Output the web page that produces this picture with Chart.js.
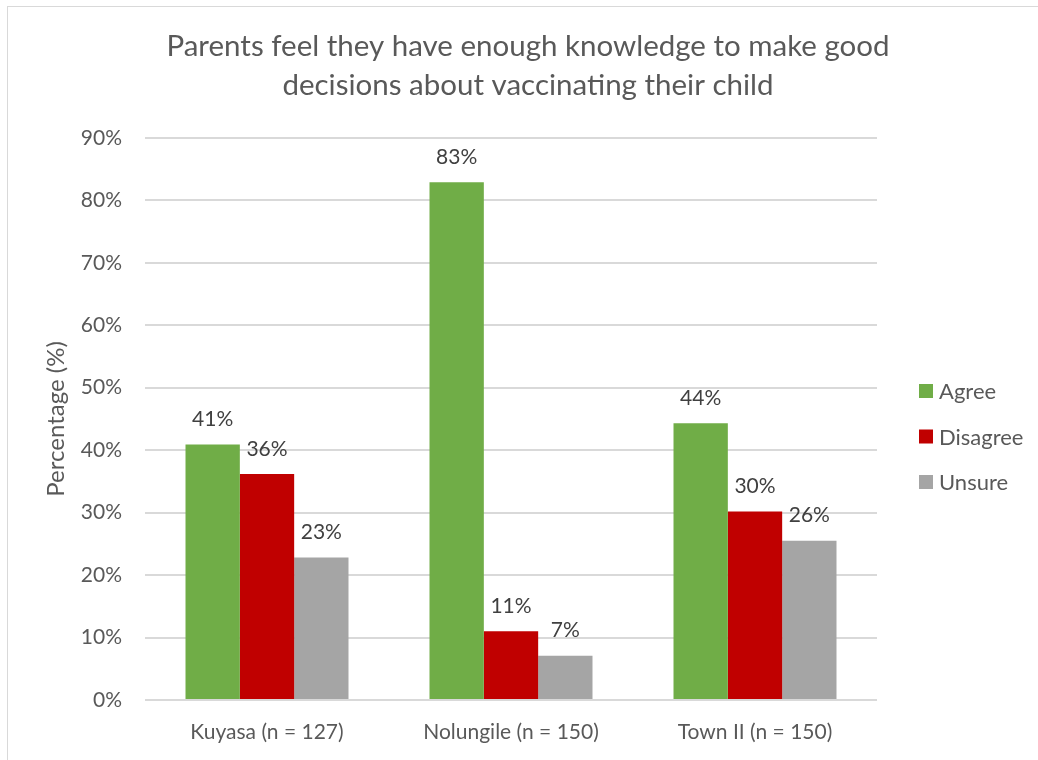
<!DOCTYPE html>
<html>
<head>
<meta charset="utf-8">
<script src="https://cdn.jsdelivr.net/npm/chart.js@4.4.0/dist/chart.umd.min.js"></script>
<style>
  html, body { margin: 0; padding: 0; background: #fff; }
  #wrap { position: relative; width: 1038px; height: 760px; overflow: hidden; }
  #frame { position: absolute; left: 7px; top: 6px; width: 1060px; height: 800px; border: 1px solid #d9d9d9; box-sizing: border-box; }
  #cv { position: absolute; left: 0; top: 0; }
</style>
</head>
<body>
<div id="wrap">
  <div id="frame"></div>
  <canvas id="cv" width="1038" height="760"></canvas>
</div>
<script>
// ---- data ----
var categories = ['Kuyasa (n = 127)', 'Nolungile (n = 150)', 'Town II (n = 150)'];
var agree    = [40.9, 82.9, 44.3];
var disagree = [36.2, 11.0, 30.2];
var unsure   = [22.8, 7.1, 25.5];
var yTicks   = [0, 10, 20, 30, 40, 50, 60, 70, 80, 90];

var FONT = 'Lato, Carlito, Calibri, sans-serif';
var TEXT = '#595959';

// "41%" style labels above each bar
var barLabels = {
    id: 'barLabels',
    afterDatasetsDraw: function (chart) {
        var ctx = chart.ctx;
        ctx.save();
        ctx.font = '21px ' + FONT;
        ctx.fillStyle = '#404040';
        ctx.textAlign = 'center';
        ctx.textBaseline = 'middle';
        chart.data.datasets.forEach(function (ds, i) {
            var meta = chart.getDatasetMeta(i);
            meta.data.forEach(function (bar, j) {
                ctx.fillText(Math.round(ds.data[j]) + '%', bar.x, bar.y - 25);
            });
        });
        ctx.restore();
    }
};

// legend on the right, Excel style
var sideLegend = {
    id: 'sideLegend',
    afterDraw: function (chart) {
        var ctx = chart.ctx;
        var x = chart.chartArea.right + 42;
        var y = 391;
        ctx.save();
        ctx.font = '22px ' + FONT;
        ctx.textBaseline = 'middle';
        ctx.textAlign = 'left';
        chart.data.datasets.forEach(function (ds, i) {
            var cy = y + i * 45.5;
            ctx.fillStyle = ds.backgroundColor;
            ctx.fillRect(x, cy - 7, 14, 14);
            ctx.fillStyle = TEXT;
            ctx.fillText(ds.label, x + 20, cy + 1);
        });
        ctx.restore();
    }
};

new Chart(document.getElementById('cv').getContext('2d'), {
    type: 'bar',
    data: {
        labels: categories,
        datasets: [
            { label: 'Agree', data: agree, backgroundColor: '#70ad47' },
            { label: 'Disagree', data: disagree, backgroundColor: '#c00000' },
            { label: 'Unsure', data: unsure, backgroundColor: '#a5a5a5' }
        ]
    },
    options: {
        responsive: false,
        animation: false,
        layout: { padding: { left: 18, right: 0, top: 0, bottom: 15 } },
        datasets: { bar: { categoryPercentage: 0.668, barPercentage: 1.0 } },
        plugins: {
            title: {
                display: true,
                text: ['Parents feel they have enough knowledge to make good', 'decisions about vaccinating their child'],
                color: TEXT,
                font: { family: FONT, size: 29.5, weight: 'normal', lineHeight: 1.32 },
                padding: { top: 27, bottom: 33 }
            },
            legend: { display: false },
            tooltip: { enabled: false }
        },
        scales: {
            x: {
                grid: { display: false, drawTicks: false, tickLength: 0 },
                border: { display: false },
                ticks: { color: TEXT, font: { family: FONT, size: 21 }, padding: 20, maxRotation: 0 },
                afterFit: function (axis) { axis.height = 45; }
            },
            y: {
                min: 0,
                max: 90,
                afterBuildTicks: function (axis) {
                    axis.ticks = yTicks.map(function (v) { return { value: v }; });
                },
                afterFit: function (axis) { axis.width = 127; },
                grid: { color: '#d9d9d9', lineWidth: 2, drawTicks: false },
                border: { display: false },
                ticks: {
                    color: TEXT,
                    font: { family: FONT, size: 21 },
                    padding: 23,
                    callback: function (v) { return v + '%'; }
                },
                title: {
                    display: true,
                    text: 'Percentage (%)',
                    color: TEXT,
                    font: { family: FONT, size: 24 },
                    padding: { top: 24, bottom: 0 }
                }
            },
            // empty right-hand axis that reserves room for the legend
            yRight: {
                position: 'right',
                display: true,
                grid: { display: false, drawTicks: false },
                border: { display: false },
                ticks: { display: false },
                afterFit: function (axis) { axis.width = 161; }
            }
        }
    },
    plugins: [barLabels, sideLegend]
});
</script>
</body>
</html>
